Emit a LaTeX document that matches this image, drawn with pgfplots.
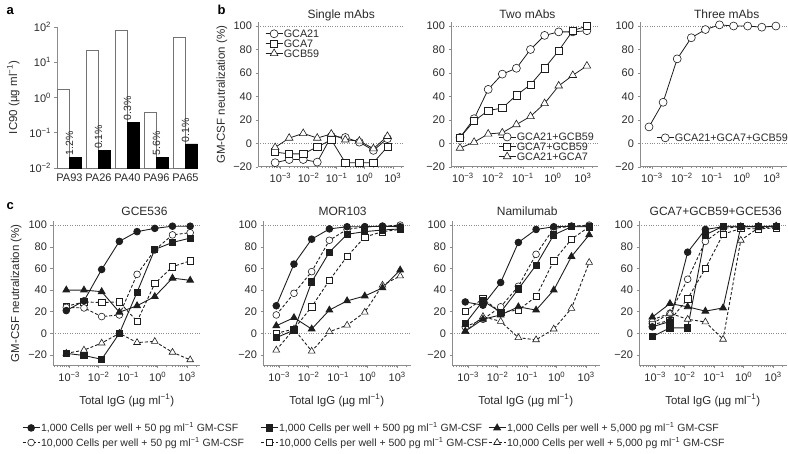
\documentclass[border=0pt]{standalone}
\usepackage{fontspec}
\setmainfont{Liberation Sans}
\usepackage{pgfplots}
\usepackage{pgfplotstable}
\pgfplotsset{compat=1.18}
\definecolor{axc}{HTML}{8C8C8C}
\definecolor{ink}{HTML}{1E1E1E}
\definecolor{txt}{HTML}{2A2A2A}
\newcommand{\fs}[1]{\fontsize{#1}{#1}\selectfont}
\newcommand{\sups}[1]{\textsuperscript{#1}}
\def\mtk{-4.301,-4.222,-4.155,-4.097,-4.046,-3.699,-3.523,-3.398,-3.301,-3.222,-3.155,-3.097,-3.046,-2.699,-2.523,-2.398,-2.301,-2.222,-2.155,-2.097,-2.046,-1.699,-1.523,-1.398,-1.301,-1.222,-1.155,-1.097,-1.046,-0.699,-0.523,-0.398,-0.301,-0.222,-0.155,-0.097,-0.046,0.301,0.477,0.602,0.699,0.778,0.845,0.903,0.954,1.301}

\pgfplotsset{
  base/.style={scale only axis, axis x line*=bottom, axis y line*=left,
    axis line style={axc, line width=0.6pt},
    tick style={axc, line width=0.5pt},
    major tick length=2.5pt, minor tick length=1.5pt, tick align=outside,
    tick label style={font=\fs{11}, text=txt},
    clip=false},
  curve/.style={base,
    xtick={-3,-2,-1,0,1},
    xticklabels={10\sups{−3},10\sups{−2},10\sups{−1},10\sups{0},10\sups{3}},
    minor xtick=\mtk,
    ytick={-20,0,20,40,60,80,100},
    yticklabels={−20,0,20,40,60,80,100},
    extra y ticks={0,100}, extra y tick labels={},
    extra y tick style={major tick length=0pt, grid=major,
      major grid style={dotted, black!45, line width=0.6pt}},
    legend cell align=left,
    legend image code/.code={\draw[##1, mark repeat=2, mark phase=2] plot coordinates {(0pt,0pt) (8.5pt,0pt) (17pt,0pt)};},
  },
  btit/.style={every axis title/.style={at={(axis description cs:#1,1)}, anchor=base, yshift=3.5pt, font=\fs{12}, text=txt}},
  ctit/.style={every axis title/.style={at={(axis description cs:#1,1)}, anchor=base, yshift=5.5pt, font=\fs{12}, text=txt}},
  ylab/.style={every axis y label/.style={at={(axis description cs:#1,0.5)}, rotate=90, anchor=center, font=\fs{11.5}, text=txt}},
  xlab/.style={every axis x label/.style={at={(axis description cs:0.5,#1)}, anchor=center, font=\fs{11.5}, text=txt}},
  bleg/.style={legend style={at={(axis description cs:#1)}, anchor=north west, draw=none, fill=none, font=\fs{10.8}, text=txt, inner sep=0pt, row sep=0.6pt, nodes={inner sep=0.8pt, text height=7.6pt, text depth=0pt}}},
  cleg/.style={legend style={at={(axis description cs:#1)}, anchor=north west, draw=none, fill=none, font=\fs{10.5}, text=txt, inner sep=0pt, row sep=5pt, nodes={inner sep=1pt, text height=7.6pt, text depth=0pt}}},
  bo/.style={ink, line width=0.8pt, solid, mark size=4pt, mark options={solid, fill=white, line width=0.6pt}},
  fcS/.style={ink, line width=0.9pt, solid, mark=*, mark size=3.3pt, mark options={solid, fill=ink}},
  fsS/.style={ink, line width=0.9pt, solid, mark=square*, mark size=3.1pt, mark options={solid, fill=ink}},
  ftS/.style={ink, line width=0.9pt, solid, mark=triangle*, mark size=3.8pt, mark options={solid, fill=ink}},
  ocS/.style={ink, line width=0.9pt, dash pattern=on 3pt off 2pt, mark=*, mark size=3.4pt, mark options={solid, fill=white, line width=0.6pt}},
  osS/.style={ink, line width=0.9pt, dash pattern=on 3pt off 2pt, mark=square*, mark size=3.2pt, mark options={solid, fill=white, line width=0.6pt}},
  otS/.style={ink, line width=0.9pt, dash pattern=on 3pt off 2pt, mark=triangle*, mark size=3.9pt, mark options={solid, fill=white, line width=0.6pt}},
}

% panel a
\pgfplotstableread{
x white
0 1.74
1 22
2 80
3 0.39
4 51
}\tWhite
\pgfplotstableread{
x black lab
0 0.0205 1.2
1 0.031 0.1
2 0.20 0.3
3 0.0205 5.6
4 0.048 0.1
}\tBlack

% panel b
\pgfplotstableread{
x gca21 gca7 gcb59
-3.19 -16.5 -7.5 -3.5
-2.69 -13.8 -9 4.5
-2.19 -13.8 -9 8.5
-1.69 -16 -3 4.5
-1.19 6 3 8
-0.69 5 -16.5 3
-0.19 1 -16.5 2
0.31 -6 -16.5 -4.5
0.81 4 -3 6
}\tSingle
\pgfplotstableread{
x ab as at
-3.10 5 5 -4
-2.63 21 19 1
-2.16 46 28 8
-1.69 59 30 9
-1.22 64 41 16
-0.75 80 50 23
-0.28 92 64 34
0.19 95 79 49
0.66 95 96 58
1.13 96 100 66
}\tTwo
\pgfplotstableread{
x v
-3.10 14
-2.63 35
-2.16 72
-1.69 90
-1.22 97
-0.75 101
-0.28 100
0.19 100
0.66 99
1.13 100
}\tThree

% panel c
\pgfplotstableread{
x fc fs ft oc os ot
-3.1 21 -18.5 40 24 25 -18.5
-2.5 30 -20.5 40 23.5 29 -15.5
-1.9 59 -24 38.5 15.5 28.5 -9
-1.3 85 0 19.5 17 29 0
-0.7 94 38 25.5 54.5 11 -8.5
-0.1 97 77.5 34 77 46 -7.5
0.5 99 84 51 91 61.5 -17.5
1.1 99 88 49 93 67 -24.5
}\tGCE
\pgfplotstableread{
x fc fs ft oc os ot
-3.1 25.5 -4 7 17 0 -15.5
-2.5 64 3 14.5 37 4 4
-1.9 87 47.5 4 57 24.5 -16.5
-1.3 96.5 75 21.5 86 49 1.5
-0.7 98.5 91.5 30 96 71 7.5
-0.1 98.5 94 34.5 98.5 89 19.5
0.5 99 95.5 42 99 94 44.5
1.1 98.5 96.5 58.5 100 96 53
}\tMOR
\pgfplotstableread{
x fc fs ft oc os ot
-3.1 29 9 2 6 20.5 1.5
-2.5 26 30 13 13 32 15.5
-1.9 47 19.5 17 24.5 19.5 11
-1.3 84 41 24.5 43.5 21.5 -4
-0.7 96 63 21.5 73 34 -6
-0.1 98.5 91 40 97 67 4
0.5 99 98.5 71 99 87 23
1.1 99 98.5 91 100 98.5 65.5
}\tNAM
\pgfplotstableread{
x fc fs ft oc os ot
-3.1 6 -3 15 9 8 12.5
-2.5 11 5 27.5 18.5 12 18.5
-1.9 75 5 24.5 50 32 13
-1.3 96 91 20.5 85 60 10.5
-0.7 98.5 99 23.5 97 91.5 -5.5
-0.1 98.5 99 98.5 98.5 97 86
0.5 99 98.5 98.5 98.5 96.5 97.5
1.1 99 99 99 98.5 97.5 98.5
}\tTRI

\begin{document}
\begin{tikzpicture}
\path[use as bounding box] (0pt,0pt) rectangle (788pt,453pt);

\node[font=\bfseries\fs{13}, anchor=base west, text=black] at (3pt,438pt) {a};
\node[font=\bfseries\fs{13}, anchor=base west, text=black] at (214pt,438pt) {b};
\node[font=\bfseries\fs{13}, anchor=base west, text=black] at (3pt,243pt) {c};

% ---------- panel a ----------
\begin{axis}[base, at={(57pt,285pt)}, anchor=south west, width=141pt, height=141pt,
  ymode=log, log origin y=infty, ymin=0.01, ymax=100,
  xmin=-0.43, xmax=4.43, ybar, bar width=12pt,
  xtick={0,1,2,3,4}, xticklabels={PA93,PA26,PA40,PA96,PA65},
  x tick style={draw=none}, yminorticks=false,
  ytick={0.01,0.1,1,10,100},
  yticklabels={10\sups{−2},10\sups{−1},10\sups{0},10\sups{1},10\sups{2}},
  ylab=-0.31, ylabel={IC90 (µg ml\sups{−1})}]
\addplot[draw=black!55, fill=white, line width=0.6pt, bar shift=-6pt] table[x=x,y=white] {\tWhite};
\addplot[draw=black, fill=black, bar shift=6pt,
  nodes near coords={\pgfplotspointmeta\%}, point meta=explicit symbolic,
  every node near coord/.style={rotate=90, anchor=west, font=\fs{10.5}, text=txt, inner sep=1.5pt}]
  table[x=x,y=black,meta=lab] {\tBlack};
\end{axis}

% ---------- panel b ----------
\begin{axis}[curve, at={(258pt,286.2pt)}, anchor=south west, width=146pt, height=144.3pt,
  xmin=-3.8, xmax=1.4, ymin=-20, ymax=103,
  btit=0.57, title={Single mAbs},
  ylab=-0.247, ylabel={GM-CSF neutralization (\%)},
  bleg={0.048,0.955}]
\addplot[bo, mark=*] table[x=x,y=gca21] {\tSingle};
\addlegendentry{GCA21}
\addplot[bo, mark=square*, mark size=3.6pt] table[x=x,y=gca7] {\tSingle};
\addlegendentry{GCA7}
\addplot[bo, mark=triangle*, mark size=4.4pt] table[x=x,y=gcb59] {\tSingle};
\addlegendentry{GCB59}
\end{axis}

\begin{axis}[curve, at={(451pt,286.2pt)}, anchor=south west, width=147pt, height=144.3pt,
  xmin=-3.4, xmax=1.5, ymin=-20, ymax=103,
  btit=0.52, title={Two mAbs},
  bleg={0.32,0.24}]
\addplot[bo, mark=*] table[x=x,y=ab] {\tTwo};
\addlegendentry{GCA21+GCB59}
\addplot[bo, mark=square*, mark size=3.6pt] table[x=x,y=as] {\tTwo};
\addlegendentry{GCA7+GCB59}
\addplot[bo, mark=triangle*, mark size=4.4pt] table[x=x,y=at] {\tTwo};
\addlegendentry{GCA21+GCA7}
\end{axis}

\begin{axis}[curve, at={(640pt,286.2pt)}, anchor=south west, width=147pt, height=144.3pt,
  xmin=-3.4, xmax=1.5, ymin=-20, ymax=103,
  btit=0.59, title={Three mAbs},
  bleg={0.11,0.234}]
\addplot[bo, mark=*] table[x=x,y=v] {\tThree};
\addlegendentry{GCA21+GCA7+GCB59}
\end{axis}

% ---------- panel c ----------
\begin{axis}[curve, at={(53pt,87.2pt)}, anchor=south west, width=147.5pt, height=145pt,
  xmin=-3.55, xmax=1.45, ymin=-30, ymax=104,
  ctit=0.62, title={GCE536},
  ylab=-0.25, ylabel={GM-CSF neutralization (\%)},
  xlab=-0.24, xlabel={Total IgG (µg ml\sups{−1})},
  cleg={-0.21,-0.394}, reverse legend]
\addplot[osS, forget plot] table[x=x,y=os] {\tGCE};
\addplot[otS, forget plot] table[x=x,y=ot] {\tGCE};
\addplot[ocS] table[x=x,y=oc] {\tGCE};
\addlegendentry{10,000 Cells per well + 50 pg ml\sups{−1} GM-CSF}
\addplot[fsS, forget plot] table[x=x,y=fs] {\tGCE};
\addplot[ftS, forget plot] table[x=x,y=ft] {\tGCE};
\addplot[fcS] table[x=x,y=fc] {\tGCE};
\addlegendentry{1,000 Cells per well + 50 pg ml\sups{−1} GM-CSF}
\end{axis}

\begin{axis}[curve, at={(263pt,87.2pt)}, anchor=south west, width=147.5pt, height=145pt,
  xmin=-3.55, xmax=1.45, ymin=-30, ymax=104,
  ctit=0.54, title={MOR103},
  xlab=-0.24, xlabel={Total IgG (µg ml\sups{−1})},
  cleg={-0.02,-0.394}, reverse legend]
\addplot[ocS, forget plot] table[x=x,y=oc] {\tMOR};
\addplot[otS, forget plot] table[x=x,y=ot] {\tMOR};
\addplot[osS] table[x=x,y=os] {\tMOR};
\addlegendentry{10,000 Cells per well + 500 pg ml\sups{−1} GM-CSF}
\addplot[fcS, forget plot] table[x=x,y=fc] {\tMOR};
\addplot[ftS, forget plot] table[x=x,y=ft] {\tMOR};
\addplot[fsS] table[x=x,y=fs] {\tMOR};
\addlegendentry{1,000 Cells per well + 500 pg ml\sups{−1} GM-CSF}
\end{axis}

\begin{axis}[curve, at={(452pt,87.2pt)}, anchor=south west, width=147.5pt, height=145pt,
  xmin=-3.55, xmax=1.45, ymin=-30, ymax=104,
  ctit=0.51, title={Namilumab},
  xlab=-0.24, xlabel={Total IgG (µg ml\sups{−1})},
  cleg={0.244,-0.394}, reverse legend]
\addplot[ocS, forget plot] table[x=x,y=oc] {\tNAM};
\addplot[osS, forget plot] table[x=x,y=os] {\tNAM};
\addplot[otS] table[x=x,y=ot] {\tNAM};
\addlegendentry{10,000 Cells per well + 5,000 pg ml\sups{−1} GM-CSF}
\addplot[fcS, forget plot] table[x=x,y=fc] {\tNAM};
\addplot[fsS, forget plot] table[x=x,y=fs] {\tNAM};
\addplot[ftS] table[x=x,y=ft] {\tNAM};
\addlegendentry{1,000 Cells per well + 5,000 pg ml\sups{−1} GM-CSF}
\end{axis}

\begin{axis}[curve, at={(639pt,87.2pt)}, anchor=south west, width=147.5pt, height=145pt,
  xmin=-3.55, xmax=1.45, ymin=-30, ymax=104,
  ctit=0.52, title={GCA7+GCB59+GCE536},
  xlab=-0.24, xlabel={Total IgG (µg ml\sups{−1})}]
\addplot[ocS] table[x=x,y=oc] {\tTRI};
\addplot[osS] table[x=x,y=os] {\tTRI};
\addplot[otS] table[x=x,y=ot] {\tTRI};
\addplot[fcS] table[x=x,y=fc] {\tTRI};
\addplot[fsS] table[x=x,y=fs] {\tTRI};
\addplot[ftS] table[x=x,y=ft] {\tTRI};
\end{axis}
\end{tikzpicture}
\end{document}
